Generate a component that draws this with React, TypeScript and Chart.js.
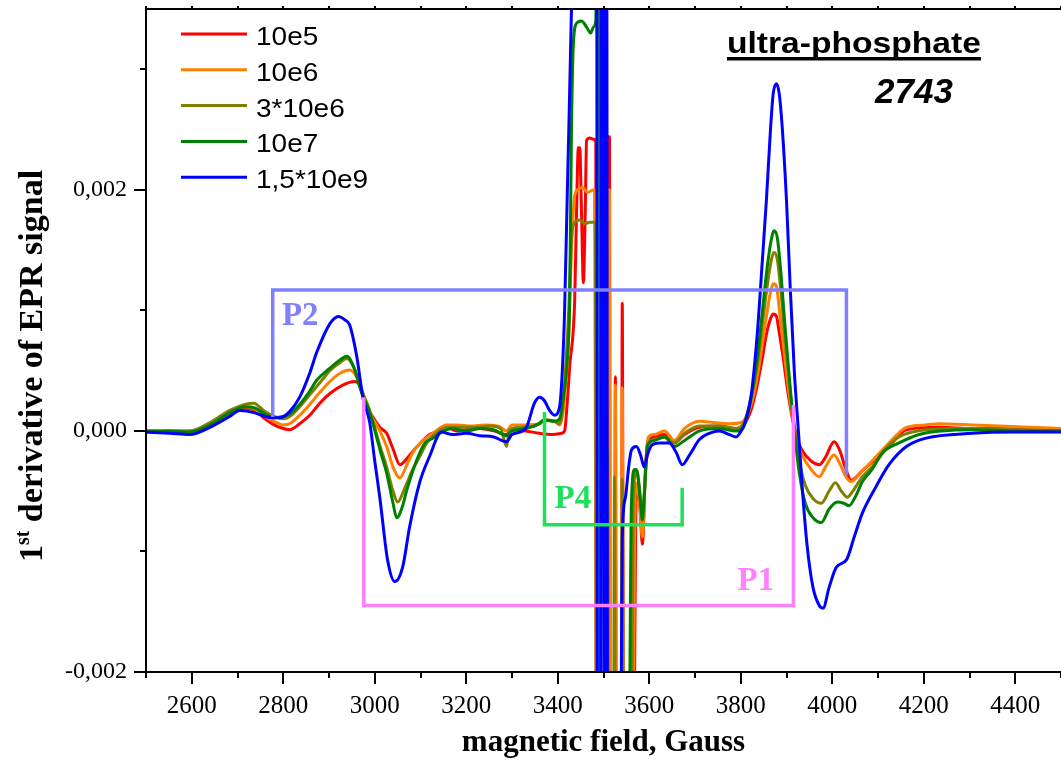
import React, { useEffect, useRef } from 'react';
import { Chart, registerables } from 'chart.js';

Chart.register(...registerables);

// magnetic field (Gauss) vs 1st derivative EPR signal (in units of 1e-3)
const seriesLabels = ['10e5', '10e6', '3*10e6', '10e7', '1,5*10e9'];
const seriesColors = ['#ff0000', '#ff8000', '#808000', '#008000', '#0000ff'];

const dose10e5: [number, number][] = [
  [2500, -0.01], [2552, -0.01], [2596, -0.02], [2640, 0.04], [2683, 0.14], [2716, 0.19], [2738, 0.17], [2760, 0.1],
  [2780, 0.05], [2800, 0.02], [2814, 0.01], [2836, 0.06], [2858, 0.13], [2880, 0.23], [2902, 0.31], [2930, 0.38],
  [2956, 0.41], [2970, 0.36], [2980, 0.22], [2995, 0.12], [3011, 0.03], [3026, -0.02], [3040, -0.15], [3055, -0.28],
  [3068, -0.24], [3083, -0.17], [3100, -0.1], [3120, -0.03], [3140, 0.0], [3157, 0.03], [3180, 0.0], [3200, 0.01],
  [3230, 0.02], [3260, 0.0], [3288, -0.03], [3300, 0.01], [3330, 0.0], [3360, -0.02], [3389, -0.03], [3408, -0.02],
  [3415, 0.0], [3421, 0.25], [3426, 0.53], [3437, 1.08], [3441, 1.8], [3445, 2.35], [3448, 2.35], [3452, 1.8],
  [3456, 1.23], [3460, 1.8], [3463, 2.41], [3470, 2.43], [3478, 2.42], [3483, 2.4], [3485, -3], [3504, -3],
  [3509, 2.44], [3513, 2.44], [3515, -3], [3524, -3], [3526, 0.45], [3528, -3], [3539, -3], [3541, 1.06],
  [3544, -3], [3565, -3], [3572, -0.45], [3579, -0.6], [3585, -0.94], [3592, -0.3], [3598, -0.08], [3611, -0.05],
  [3633, -0.03], [3655, -0.1], [3677, -0.03], [3710, 0.03], [3753, 0.04], [3790, 0.02], [3808, 0.06], [3823, 0.18],
  [3836, 0.38], [3847, 0.6], [3856, 0.8], [3865, 0.93], [3871, 0.97], [3878, 0.95], [3884, 0.82], [3893, 0.6],
  [3902, 0.35], [3913, 0.1], [3924, -0.07], [3934, -0.16], [3954, -0.25], [3972, -0.28], [3985, -0.22], [4004, -0.09],
  [4015, -0.15], [4030, -0.32], [4041, -0.41], [4066, -0.33], [4087, -0.26], [4124, -0.13], [4162, 0.01], [4234, 0.03],
  [4306, 0.02], [4365, 0.02], [4430, 0.01], [4500, 0.0],
];

const dose10e6: [number, number][] = [
  [2500, -0.01], [2552, 0.0], [2596, 0.0], [2640, 0.05], [2683, 0.15], [2716, 0.2], [2738, 0.18], [2760, 0.12],
  [2780, 0.08], [2800, 0.05], [2814, 0.06], [2836, 0.13], [2858, 0.22], [2880, 0.32], [2902, 0.41], [2925, 0.48],
  [2945, 0.505], [2960, 0.45], [2975, 0.3], [2989, 0.15], [3011, 0.0], [3026, -0.13], [3040, -0.3], [3055, -0.39],
  [3068, -0.3], [3083, -0.18], [3100, -0.1], [3127, -0.02], [3157, 0.05], [3180, 0.05], [3210, 0.04], [3240, 0.05],
  [3270, 0.04], [3288, 0.0], [3300, 0.05], [3330, 0.05], [3360, 0.06], [3371, 0.09], [3393, 0.08], [3404, 0.05],
  [3413, 0.2], [3424, 0.8], [3430, 1.5], [3437, 1.95], [3443, 2.0], [3454, 2.02], [3465, 1.98], [3480, 2.0],
  [3485, -3], [3504, -3], [3509, 2.0], [3513, 2.0], [3515, -3], [3524, -3], [3526, 0.38], [3528, -3],
  [3539, -3], [3541, 0.36], [3544, -3], [3563, -3], [3570, -0.43], [3579, -0.6], [3585, -0.88], [3592, -0.3],
  [3598, -0.05], [3611, -0.03], [3633, 0.0], [3655, -0.08], [3677, 0.02], [3710, 0.08], [3740, 0.07], [3775, 0.06],
  [3801, 0.07], [3823, 0.22], [3836, 0.45], [3847, 0.72], [3856, 0.95], [3865, 1.15], [3871, 1.22], [3878, 1.2],
  [3884, 1.02], [3893, 0.72], [3902, 0.42], [3913, 0.12], [3924, -0.1], [3934, -0.2], [3954, -0.32], [3972, -0.38],
  [3985, -0.3], [4004, -0.2], [4015, -0.26], [4030, -0.38], [4041, -0.42], [4066, -0.33], [4087, -0.25], [4124, -0.1],
  [4162, 0.03], [4205, 0.05], [4234, 0.06], [4306, 0.05], [4365, 0.04], [4430, 0.03], [4500, 0.02],
];

const dose3x10e6: [number, number][] = [
  [2500, 0.0], [2552, 0.0], [2596, 0.0], [2640, 0.07], [2683, 0.17], [2716, 0.22], [2735, 0.23], [2760, 0.16],
  [2780, 0.12], [2800, 0.1], [2814, 0.12], [2836, 0.2], [2858, 0.3], [2880, 0.4], [2902, 0.5], [2925, 0.57],
  [2939, 0.6], [2955, 0.52], [2970, 0.35], [2989, 0.17], [3011, -0.12], [3026, -0.3], [3040, -0.5], [3050, -0.59],
  [3065, -0.48], [3083, -0.32], [3100, -0.2], [3114, -0.1], [3140, 0.0], [3160, 0.03], [3190, 0.03], [3220, 0.03],
  [3250, 0.04], [3275, 0.02], [3288, -0.13], [3295, 0.01], [3320, 0.03], [3350, 0.04], [3371, 0.09], [3393, 0.08],
  [3404, 0.06], [3413, 0.3], [3424, 1.0], [3430, 1.6], [3437, 1.73], [3448, 1.75], [3459, 1.72], [3470, 1.73],
  [3482, 1.73], [3485, -3], [3506, -3], [3509, -0.15], [3511, -3], [3522, -3], [3524, -0.38], [3526, -3],
  [3539, -3], [3541, -0.4], [3544, -3], [3561, -3], [3565, -0.6], [3572, -0.32], [3578, -0.45], [3585, -0.7],
  [3591, -0.4], [3598, -0.1], [3611, -0.07], [3633, -0.05], [3655, -0.1], [3677, -0.02], [3710, 0.04], [3753, 0.04],
  [3790, 0.02], [3808, 0.08], [3823, 0.28], [3836, 0.55], [3847, 0.88], [3856, 1.15], [3865, 1.38], [3873, 1.48],
  [3880, 1.42], [3888, 1.15], [3896, 0.8], [3906, 0.4], [3917, 0.05], [3928, -0.25], [3941, -0.45], [3958, -0.56],
  [3976, -0.6], [3993, -0.5], [4007, -0.43], [4020, -0.5], [4033, -0.55], [4045, -0.5], [4066, -0.38], [4087, -0.3],
  [4124, -0.12], [4146, -0.05], [4205, 0.01], [4306, 0.02], [4400, 0.01], [4500, 0.0],
];

const dose10e7: [number, number][] = [
  [2500, 0.0], [2552, 0.0], [2596, -0.01], [2640, 0.05], [2683, 0.15], [2716, 0.2], [2738, 0.19], [2760, 0.14],
  [2780, 0.11], [2800, 0.12], [2814, 0.14], [2836, 0.22], [2858, 0.33], [2873, 0.42], [2902, 0.52], [2921, 0.58],
  [2939, 0.62], [2955, 0.52], [2970, 0.33], [2989, 0.15], [3011, -0.15], [3026, -0.35], [3040, -0.6], [3048, -0.72],
  [3061, -0.62], [3070, -0.49], [3092, -0.24], [3110, -0.1], [3127, -0.06], [3146, -0.01], [3170, 0.02], [3200, 0.0],
  [3230, 0.02], [3260, 0.01], [3288, -0.04], [3300, 0.0], [3330, 0.02], [3360, 0.06], [3371, 0.09], [3393, 0.08],
  [3404, 0.1], [3413, 0.3], [3421, 0.6], [3426, 1.08], [3430, 2.5], [3434, 3.2], [3441, 3.38], [3452, 3.4],
  [3463, 3.35], [3472, 3.3], [3478, 3.35], [3483, 3.4], [3487, 4.5], [3491, 4.5], [3493, -3], [3555, -3],
  [3561, -0.6], [3568, -0.32], [3574, -0.35], [3581, -0.6], [3585, -0.74], [3589, -0.55], [3596, -0.12], [3611, -0.08],
  [3633, -0.05], [3655, -0.13], [3677, -0.08], [3710, 0.0], [3753, 0.02], [3790, 0.0], [3808, 0.05], [3823, 0.28],
  [3836, 0.6], [3847, 0.98], [3856, 1.3], [3865, 1.55], [3873, 1.66], [3880, 1.6], [3888, 1.3], [3896, 0.9],
  [3906, 0.45], [3917, 0.0], [3928, -0.35], [3941, -0.6], [3958, -0.72], [3976, -0.76], [3993, -0.65], [4011, -0.59],
  [4025, -0.6], [4037, -0.62], [4050, -0.55], [4066, -0.42], [4087, -0.32], [4110, -0.18], [4146, -0.1], [4190, -0.03],
  [4240, 0.0], [4306, 0.01], [4400, 0.0], [4500, 0.0],
];

const dose15e9: [number, number][] = [
  [2500, -0.01], [2552, -0.02], [2596, -0.03], [2640, 0.03], [2683, 0.12], [2705, 0.17], [2738, 0.15], [2760, 0.12],
  [2777, 0.11], [2793, 0.11], [2814, 0.16], [2836, 0.28], [2858, 0.48], [2873, 0.65], [2902, 0.89], [2921, 0.95],
  [2935, 0.92], [2945, 0.88], [2961, 0.61], [2974, 0.28], [2989, 0.07], [3000, -0.25], [3011, -0.55], [3028, -1.07],
  [3044, -1.25], [3061, -1.13], [3076, -0.8], [3098, -0.43], [3120, -0.21], [3146, -0.01], [3170, -0.03], [3200, -0.02],
  [3230, -0.04], [3260, -0.05], [3288, -0.09], [3300, -0.03], [3330, 0.02], [3349, 0.23], [3360, 0.28], [3371, 0.25],
  [3382, 0.17], [3393, 0.13], [3404, 0.2], [3410, 0.5], [3415, 1.0], [3421, 2.0], [3430, 3.5], [3434, 4.5],
  [3485, 4.5], [3487, -3], [3494, -3], [3496, 4.5], [3500, 4.5], [3502, -3], [3504, -3], [3505, 4.5],
  [3507, 4.5], [3509, -3], [3537, -3], [3541, -0.9], [3548, -0.55], [3555, -0.3], [3561, -0.16], [3572, -0.13],
  [3581, -0.2], [3589, -0.3], [3596, -0.2], [3605, -0.12], [3622, -0.1], [3644, -0.1], [3659, -0.18], [3672, -0.28],
  [3688, -0.2], [3710, -0.07], [3731, -0.02], [3753, 0.0], [3775, -0.03], [3790, -0.05], [3801, 0.0], [3808, 0.05],
  [3823, 0.3], [3836, 0.8], [3847, 1.4], [3856, 1.91], [3865, 2.5], [3871, 2.8], [3878, 2.88], [3884, 2.8],
  [3891, 2.5], [3900, 1.91], [3908, 1.2], [3917, 0.5], [3926, 0.0], [3934, -0.45], [3945, -0.95], [3958, -1.3],
  [3972, -1.45], [3980, -1.47], [3993, -1.3], [4009, -1.13], [4031, -1.07], [4048, -0.88], [4066, -0.68], [4096, -0.46],
  [4124, -0.28], [4162, -0.13], [4205, -0.06], [4306, -0.02], [4400, -0.01], [4500, -0.01],
];

// Integration brackets (field, signal)
const bracketP2: [number, number][] = [[2777, 0.116], [2777, 1.168], [4031, 1.168], [4031, -0.364]];
const bracketP1: [number, number][] = [[2976, 0.28], [2976, -1.449], [3915, -1.449], [3915, 0.215]];
const bracketP4: [number, number][] = [[3371, 0.157], [3371, -0.778], [3672, -0.778], [3672, -0.472]];
const bracketLabels = ['P2', 'P1', 'P4'];
const bracketColors = ['#8080ff', '#ff80ff', '#1ee05a'];
const bracketLabelPos: [number, number][] = [[2797, 0.878], [3793, -1.317], [3393, -0.638]];

// Axis ticks
const yLabeledTicks = [-2, 0, 2];
const xLabeledTicks = [2600, 2800, 3000, 3200, 3400, 3600, 3800, 4000, 4200, 4400];

const allSeries = [dose10e5, dose10e6, dose3x10e6, dose10e7, dose15e9];
const allBrackets = [bracketP2, bracketP1, bracketP4];

const SERIF = '"Liberation Serif", "Times New Roman", serif';
const SANS = '"Liberation Sans", Arial, sans-serif';

function stretchText(ctx: CanvasRenderingContext2D, text: string, x: number, y: number, sx: number) {
  ctx.save();
  ctx.translate(x, y);
  ctx.scale(sx, 1);
  ctx.fillText(text, 0, 0);
  ctx.restore();
}

function zeroPadding(s: any) {
  s.paddingTop = 0;
  s.paddingBottom = 0;
  s.paddingLeft = 0;
  s.paddingRight = 0;
}

const decorPlugin = {
  id: 'decor',
  afterDatasetsDraw(chart: any) {
    const { ctx, chartArea: a, scales } = chart;
    const xs = scales.x;
    const ys = scales.y;
    ctx.save();
    // frame
    ctx.strokeStyle = '#000';
    ctx.lineWidth = 2;
    ctx.beginPath();
    ctx.moveTo(a.right + 2, a.top);
    ctx.lineTo(a.left, a.top);
    ctx.lineTo(a.left, a.bottom);
    ctx.lineTo(a.right + 2, a.bottom);
    ctx.stroke();
    // ticks
    ctx.beginPath();
    xs.ticks.forEach((t: any) => {
      const px = Math.round(xs.getPixelForValue(t.value));
      const major = xLabeledTicks.includes(t.value);
      ctx.moveTo(px, a.bottom);
      ctx.lineTo(px, a.bottom + (major ? 12 : 6));
      ctx.moveTo(px, a.top);
      ctx.lineTo(px, a.top - 3);
    });
    ys.ticks.forEach((t: any) => {
      if (!Number.isInteger(t.value)) return;
      const py = Math.round(ys.getPixelForValue(t.value));
      const major = yLabeledTicks.includes(t.value);
      ctx.moveTo(a.left, py);
      ctx.lineTo(a.left - (major ? 12 : 6), py);
    });
    ctx.stroke();

    // bracket labels
    ctx.font = `bold 33px ${SERIF}`;
    ctx.textBaseline = 'alphabetic';
    ctx.textAlign = 'left';
    bracketLabels.forEach((lab, i) => {
      ctx.fillStyle = bracketColors[i];
      const [gx, gy] = bracketLabelPos[i];
      ctx.fillText(lab, xs.getPixelForValue(gx), ys.getPixelForValue(gy));
    });

    // legend
    const rowTop = a.top + 25;
    const rowGap = 35.8;
    ctx.font = `25px ${SANS}`;
    seriesLabels.forEach((lab, i) => {
      const ry = rowTop + i * rowGap;
      ctx.strokeStyle = seriesColors[i];
      ctx.lineWidth = 3;
      ctx.beginPath();
      ctx.moveTo(a.left + 35, ry);
      ctx.lineTo(a.left + 101, ry);
      ctx.stroke();
      ctx.fillStyle = '#000';
      stretchText(ctx, lab, a.left + 110, ry + 11, 1.12);
    });

    // title annotations
    ctx.fillStyle = '#000';
    ctx.font = `bold 30px ${SANS}`;
    const t1 = 'ultra-phosphate';
    const w1 = ctx.measureText(t1).width * 1.12;
    stretchText(ctx, t1, 727, 53, 1.12);
    ctx.fillRect(727, 57, w1, 3.5);
    ctx.font = `italic bold 35px ${SANS}`;
    ctx.fillText('2743', 875, 103);

    // y axis title with superscript
    ctx.save();
    ctx.translate(31, 366);
    ctx.rotate(-Math.PI / 2);
    const big = `bold 34px ${SERIF}`;
    const small = `bold 20px ${SERIF}`;
    ctx.font = big;
    const wa = ctx.measureText('1').width;
    const rest = ' derivative of EPR signal';
    const wc = ctx.measureText(rest).width;
    ctx.font = small;
    const wb = ctx.measureText('st').width;
    let sx = -(wa + wb + wc) / 2;
    const base = 11;
    ctx.font = big;
    ctx.fillText('1', sx, base);
    sx += wa;
    ctx.font = small;
    ctx.fillText('st', sx, base - 13);
    sx += wb;
    ctx.font = big;
    ctx.fillText(rest, sx, base);
    ctx.restore();

    ctx.restore();
  },
};

export default function App() {
  const ref = useRef<HTMLCanvasElement>(null);
  useEffect(() => {
    const canvas = ref.current;
    if (!canvas) return;
    const spectra = allSeries.map((pts, i) => ({
      label: seriesLabels[i],
      data: pts.map(([x, y]) => ({ x, y })),
      borderColor: seriesColors[i],
      borderWidth: 3,
      pointRadius: 0,
      fill: false,
      cubicInterpolationMode: 'monotone',
      order: 10 - i,
    }));
    const brackets = allBrackets.map((pts, i) => ({
      label: bracketLabels[i],
      data: pts.map(([x, y]) => ({ x, y })),
      borderColor: bracketColors[i],
      borderWidth: 3.5,
      pointRadius: 0,
      fill: false,
      tension: 0,
      order: 0,
    }));
    const chart = new Chart(canvas, {
      type: 'line',
      data: { datasets: [...spectra, ...brackets] as any },
      options: {
        animation: false,
        responsive: false,
        devicePixelRatio: 1,
        layout: { padding: { top: 9, left: 0, right: 0, bottom: 0 } },
        plugins: { legend: { display: false }, tooltip: { enabled: false } },
        scales: {
          x: {
            type: 'linear',
            min: 2500,
            max: 4500,
            grid: { display: false, drawTicks: false },
            border: { display: false },
            ticks: {
              stepSize: 100,
              autoSkip: false,
              maxRotation: 0,
              padding: 19,
              color: '#000',
              font: { family: SERIF, size: 25 },
              callback: (v: any) => (xLabeledTicks.includes(Number(v)) ? String(v) : ''),
            },
            title: {
              display: true,
              text: 'magnetic field, Gauss',
              color: '#000',
              font: { family: SERIF, size: 31, weight: 'bold' },
              padding: { top: 0, bottom: 0 },
            },
            afterFit: (s: any) => {
              s.height = 90;
              zeroPadding(s);
            },
          },
          y: {
            type: 'linear',
            min: -2,
            max: 3.5,
            grid: { display: false, drawTicks: false },
            border: { display: false },
            ticks: {
              stepSize: 1,
              padding: 19,
              color: '#000',
              font: { family: SERIF, size: 24 },
              callback: (v: any) =>
                yLabeledTicks.includes(Number(v)) ? (Number(v) / 1000).toFixed(3).replace('.', ',') : '',
            },
            afterFit: (s: any) => {
              s.width = 146;
              zeroPadding(s);
            },
          },
        },
      } as any,
      plugins: [decorPlugin],
    });
    return () => chart.destroy();
  }, []);
  return (
    <div style={{ position: 'absolute', left: 0, top: 0, width: 1061, height: 762, background: '#fff' }}>
      <canvas ref={ref} width={1061} height={762} style={{ display: 'block', width: 1061, height: 762 }} />
    </div>
  );
}
